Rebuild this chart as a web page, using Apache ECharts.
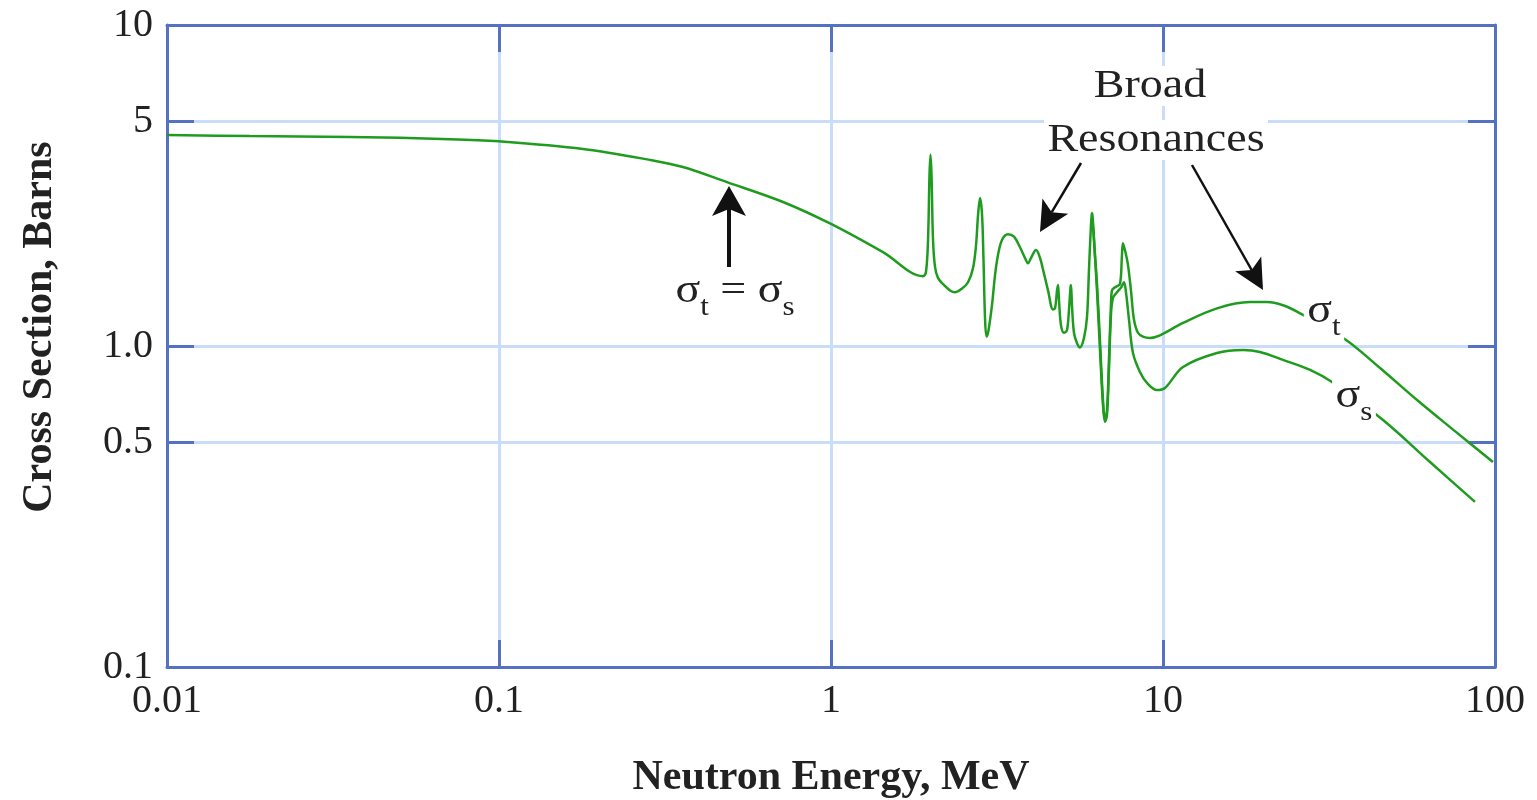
<!DOCTYPE html>
<html>
<head>
<meta charset="utf-8">
<script src="https://cdn.jsdelivr.net/npm/echarts@6/dist/echarts.min.js"></script>
<style>
  html, body { margin: 0; padding: 0; background: #fff; }
  #main { width: 1537px; height: 800px; }
</style>
</head>
<body>
<div id="main"></div>
<script>
// total cross section (energy in MeV, sigma in barns)
var energy = [0.01, 0.0178, 0.0356, 0.0712, 0.1, 0.179, 0.285, 0.358, 0.486, 0.717, 1.0, 1.434, 1.893,
  1.932, 1.960, 1.980, 1.994, 2.008, 2.029, 2.058, 2.100, 2.174, 2.283, 2.363, 2.481, 2.587, 2.678,
  2.734, 2.773, 2.811, 2.851, 2.880, 2.911, 2.941, 2.982, 3.054, 3.119, 3.184, 3.274, 3.413, 3.558,
  3.709, 3.840, 3.921, 4.004, 4.146, 4.262, 4.352, 4.505, 4.664, 4.729, 4.795, 4.828, 4.861, 4.929,
  5.032, 5.138, 5.210, 5.264, 5.282, 5.319, 5.393, 5.508, 5.623, 5.781, 5.903, 5.985, 6.068, 6.110,
  6.153, 6.239, 6.326, 6.459, 6.595, 6.687, 6.781, 6.875, 6.970, 7.019, 7.216, 7.420, 7.523, 7.575,
  7.680, 7.842, 8.007, 8.176, 8.406, 8.703, 9.138, 9.795, 11.49, 14.54, 18.28, 20.57, 22.98, 25.33,
  35.33, 45.05, 58.23, 75.76, 98.6];
var sigmaT = [4.54, 4.51, 4.48, 4.41, 4.34, 4.11, 3.80, 3.61, 3.24, 2.81, 2.40, 1.96, 1.65,
  1.70, 2.14, 3.41, 3.94, 3.41, 2.14, 1.76, 1.63, 1.56, 1.49, 1.47, 1.51, 1.58, 1.75,
  2.06, 2.56, 2.89, 2.56, 1.85, 1.21, 1.07, 1.12, 1.34, 1.66, 1.92, 2.14, 2.23, 2.19,
  2.03, 1.88, 1.81, 1.88, 1.99, 1.88, 1.73, 1.49, 1.30, 1.31, 1.49, 1.55, 1.39, 1.16,
  1.10, 1.12, 1.30, 1.52, 1.55, 1.34, 1.10, 1.02, 0.99, 1.06, 1.23, 1.73, 2.38, 2.60,
  2.43, 1.92, 1.57, 1.04, 0.68, 0.59, 0.63, 0.91, 1.34, 1.49, 1.53, 1.56, 1.92, 2.09,
  1.99, 1.79, 1.49, 1.21, 1.10, 1.07, 1.06, 1.08, 1.18, 1.31, 1.37, 1.37, 1.34, 1.28,
  1.05, 0.854, 0.679, 0.543, 0.435];

// scattering cross section, where it splits from the total
var energyS = [6.110, 6.196, 6.326, 6.459, 6.595, 6.687, 6.781, 6.875, 6.970, 7.069, 7.268, 7.471,
  7.628, 7.735, 7.897, 8.120, 8.523, 8.950, 9.592, 10.14, 11.49, 14.54, 17.42, 19.60, 22.98, 27.73,
  32.28, 45.99, 63.72, 87.03];
var sigmaS = [2.60, 2.14, 1.49, 0.972, 0.655, 0.580, 0.610, 0.842, 1.249, 1.411, 1.47, 1.52,
  1.58, 1.47, 1.21, 0.951, 0.830, 0.767, 0.729, 0.740, 0.860, 0.951, 0.972, 0.958, 0.905, 0.842,
  0.772, 0.588, 0.435, 0.327];

var yLabelValues = [0.1, 0.5, 1, 5, 10];
var yTickValues = [0.5, 1, 5];

var serif = "'Liberation Serif', 'Times New Roman', serif";
var frame = '#5571c2';
var gridBlue = '#c9ddf8';
var green = '#1f9c1f';

function fmt(v) {
  var r = Number(v.toPrecision(2));
  return r === 1 ? '1.0' : String(r);
}

function xAxisOpt(pos, isMain) {
  return {
    type: 'log', logBase: 10, min: 0.01, max: 100, position: pos,
    name: isMain ? 'Neutron Energy, MeV' : '',
    nameLocation: 'middle', nameGap: 90,
    nameTextStyle: { fontFamily: serif, fontWeight: 'bold', fontSize: 42, color: '#222' },
    axisLine: { show: true, lineStyle: { color: frame, width: 3 } },
    axisTick: { show: true, inside: true, length: 27, lineStyle: { color: frame, width: 3 } },
    axisLabel: {
      show: isMain, fontFamily: serif, fontSize: 40, color: '#222', margin: 14,
      showMinLabel: true, showMaxLabel: true,
      formatter: function (v) { return String(Number(v.toPrecision(2))); }
    },
    splitLine: { show: isMain, lineStyle: { color: gridBlue, width: 3 } },
    minorTick: { show: false }, minorSplitLine: { show: false }
  };
}

function yAxisOpt(pos, isMain) {
  return {
    type: 'log', logBase: 10, min: 0.1, max: 10, position: pos,
    name: isMain ? 'Cross Section, Barns' : '',
    nameLocation: 'middle', nameGap: 106,
    nameTextStyle: { fontFamily: serif, fontWeight: 'bold', fontSize: 42, color: '#222', padding: [0, 0, 0, 38] },
    axisLine: { show: true, lineStyle: { color: frame, width: 3 } },
    axisTick: { show: true, inside: true, length: 27, customValues: yTickValues, lineStyle: { color: frame, width: 3 } },
    axisLabel: {
      show: isMain, fontFamily: serif, fontSize: 40, color: '#222', margin: 14,
      customValues: yLabelValues, formatter: fmt
    },
    splitLine: { show: isMain, lineStyle: { color: gridBlue, width: 3 } }
  };
}

function arrow(x1, y1, x2, y2, hl, hw, w) {
  var dx = x2 - x1, dy = y2 - y1, len = Math.sqrt(dx * dx + dy * dy);
  var ux = dx / len, uy = dy / len, px = -uy, py = ux;
  var bx = x2 - ux * hl, by = y2 - uy * hl;
  var nx = x2 - ux * (hl - 7), ny = y2 - uy * (hl - 7);
  return [
    { type: 'line', z: 100, shape: { x1: x1, y1: y1, x2: nx, y2: ny }, style: { stroke: '#111', lineWidth: w } },
    { type: 'polygon', z: 100, shape: { points: [[x2, y2], [bx + px * hw, by + py * hw], [nx, ny], [bx - px * hw, by - py * hw]] },
      style: { fill: '#111' } }
  ];
}

function label(x, y, text, rich, bg) {
  return {
    type: 'text', z: 101, x: x, y: y, scaleX: 1.15,
    style: {
      text: text, rich: rich, fontFamily: serif, fontSize: 40, fill: '#222',
      align: 'center', verticalAlign: 'middle', textAlign: 'center', textVerticalAlign: 'middle',
      backgroundColor: bg ? '#fff' : null, padding: bg ? [0, 3] : 0
    }
  };
}

var sigRich = {
  a: { fontFamily: serif, fontSize: 40, fill: '#222', verticalAlign: 'bottom', padding: [0, 0, 10, 0] },
  b: { fontFamily: serif, fontSize: 27, fill: '#222', verticalAlign: 'bottom' }
};

var graphics = []
  .concat(arrow(729, 267, 729, 186, 30, 17, 4))
  .concat(arrow(1081, 163, 1040, 232, 30, 15, 2.5))
  .concat(arrow(1192, 165, 1263, 290, 30, 15, 2.5))
  .concat([
    label(1150, 86, 'Broad', null, true),
    label(1156, 140, 'Resonances', null, true),
    label(735, 296, '{a|σ}{b|t}{a| = σ}{b|s}', sigRich, false),
    label(1324, 316, '{a|σ}{b|t}', sigRich, true),
    label(1354, 401, '{a|σ}{b|s}', sigRich, true)
  ]);

var chart = echarts.init(document.getElementById('main'), null, { renderer: 'canvas' });
chart.setOption({
  backgroundColor: '#fff',
  animation: false,
  grid: { left: 167, right: 42, top: 25, bottom: 133, show: false, containLabel: false, outerBoundsMode: 'none' },
  xAxis: [xAxisOpt('bottom', true), xAxisOpt('top', false)],
  yAxis: [yAxisOpt('left', true), yAxisOpt('right', false)],
  series: [
    {
      name: 'sigma_t', type: 'line', xAxisIndex: 0, yAxisIndex: 0,
      data: energy.map(function (e, i) { return [e, sigmaT[i]]; }),
      showSymbol: false, smooth: 0.35,
      lineStyle: { color: green, width: 2.5 }, z: 5
    },
    {
      name: 'sigma_s', type: 'line', xAxisIndex: 0, yAxisIndex: 0,
      data: energyS.map(function (e, i) { return [e, sigmaS[i]]; }),
      showSymbol: false, smooth: 0.35,
      lineStyle: { color: green, width: 2.5 }, z: 5
    }
  ],
  graphic: graphics
});
</script>
</body>
</html>
